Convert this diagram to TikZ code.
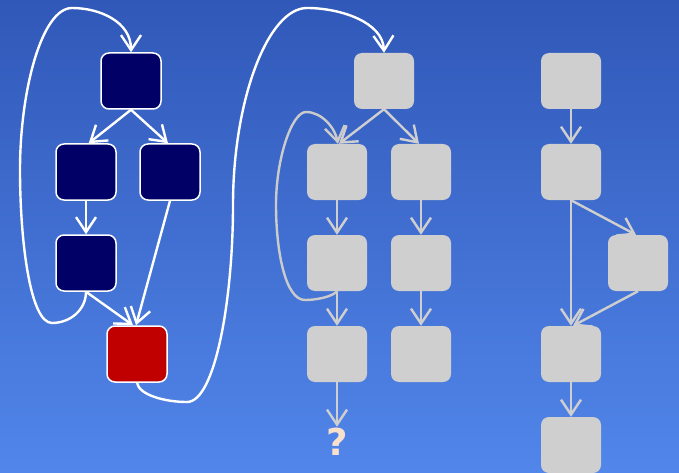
\documentclass[tikz,border=0pt]{standalone}
\usepackage{fontspec}
\newfontfamily\qfont{DejaVu Sans}
\usetikzlibrary{arrows.meta}
\definecolor{bgtop}{RGB}{48,88,184}
\definecolor{bgbot}{RGB}{82,134,234}
\definecolor{navy}{RGB}{0,0,102}
\definecolor{darkred}{RGB}{192,0,0}
\definecolor{lgray}{RGB}{207,207,207}
\definecolor{peach}{RGB}{248,224,204}
\tikzset{
  box/.style={rectangle, rounded corners=8pt, minimum width=60pt, minimum height=56pt, inner sep=0pt},
  dbox/.style={box, fill=navy, draw=white, line width=1.5pt},
  rbox/.style={box, fill=darkred, draw=white, line width=1.5pt},
  gbox/.style={box, fill=lgray},
  warr/.style={draw=white, line width=2.4pt, -{Straight Barb[length=15pt,width=20pt]}},
  garr/.style={draw=lgray, line width=2.4pt, -{Straight Barb[length=15pt,width=20pt]}},
}
\begin{document}
\begin{tikzpicture}[x=1pt,y=-1pt]
\shade[top color=bgtop, bottom color=bgbot] (0,0) rectangle (679,473);
\useasboundingbox (0,0) rectangle (679,473);
% left graph
\node[dbox] (A) at (131,81) {};
\node[dbox] (B) at (86,172) {};
\node[dbox] (C) at (170,172) {};
\node[dbox] (D) at (86,263) {};
\node[rbox] (E) at (137,354) {};
% middle graph
\node[gbox] (M1) at (384,81) {};
\node[gbox] (M2) at (337,172) {};
\node[gbox] (M3) at (421,172) {};
\node[gbox] (M4) at (337,263) {};
\node[gbox] (M5) at (421,263) {};
\node[gbox] (M6) at (337,354) {};
\node[gbox] (M7) at (421,354) {};
\node[text=peach, font=\qfont\bfseries\fontsize{37}{40}\selectfont] (Q) at (337,442) {?};
% right graph
\node[gbox] (R1) at (571,81) {};
\node[gbox] (R2) at (571,172) {};
\node[gbox] (R3) at (638,263) {};
\node[gbox] (R4) at (571,354) {};
\node[gbox] (R5) at (571,445) {};
% left edges
\draw[warr] (A.south) -- ([xshift=-28pt]B.north east);
\draw[warr] (A.south) -- ([xshift=-2pt]C.north);
\draw[warr] (B.south) -- (D.north);
\draw[warr] (D.south) -- ([xshift=-4pt]E.north);
\draw[warr] (C.south) -- ([xshift=-1pt]E.north);
\draw[warr] (D.south) .. controls (86,310) and (70,323) .. (52,323)
  .. controls (30,323) and (20,240) .. (20,170)
  .. controls (20,90) and (42,8) .. (72,8)
  .. controls (100,8) and (131,22) .. (A.north);
\draw[warr] (E.south) .. controls (139,395) and (165,402) .. (187,402)
  .. controls (215,402) and (233,300) .. (233,205)
  .. controls (233,100) and (268,8) .. (307,8)
  .. controls (340,8) and (383,22) .. (M1.north);
% middle edges
\draw[garr] (M1.south) -- ([xshift=2pt]M2.north);
\draw[garr] (M1.south) -- ([xshift=-2pt]M3.north);
\draw[garr] (M2.south) -- (M4.north);
\draw[garr] (M3.south) -- (M5.north);
\draw[garr] (M4.south) -- (M6.north);
\draw[garr] (M5.south) -- (M7.north);
\draw[garr] (M6.south) -- ([yshift=-2pt]Q.north);
\draw[garr, draw=lgray!95!gray] (M4.south) .. controls (332,297) and (316,300) .. (305,300)
  .. controls (285,300) and (276,250) .. (276,205)
  .. controls (276,158) and (292,112) .. (306,112)
  .. controls (322,112) and (335,128) .. ([xshift=1pt]M2.north);
% right edges
\draw[garr] (R1.south) -- (R2.north);
\draw[garr] (R2.south) -- ([xshift=-2pt]R3.north);
\draw[garr] (R2.south) -- (R4.north);
\draw[garr] (R3.south) -- ([xshift=2pt]R4.north);
\draw[garr] (R4.south) -- (R5.north);
\end{tikzpicture}
\end{document}
